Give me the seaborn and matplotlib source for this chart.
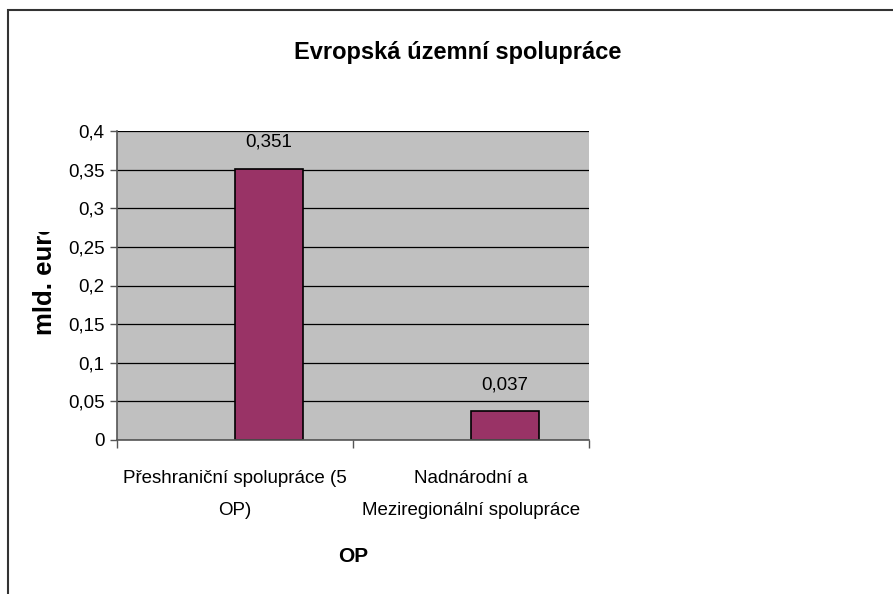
import matplotlib
matplotlib.use("Agg")
import matplotlib.pyplot as plt
import matplotlib.patches as mpatches
from matplotlib.ticker import FixedLocator, FuncFormatter
from matplotlib.transforms import Bbox
import pandas as pd
import seaborn as sns

# data
categories = ["Přeshraniční spolupráce (5\nOP)", "Nadnárodní a\nMeziregionální spolupráce"]
values = [0.351, 0.037]
series = ["", "EÚS"]  # first Excel series is empty, it only takes up space
y_ticks = [0, 0.05, 0.1, 0.15, 0.2, 0.25, 0.3, 0.35, 0.4]

df = pd.DataFrame({"kategorie": categories, "hodnota": values, "serie": series[1]})

sns.set_style("white")
plt.rcParams["font.family"] = ["Liberation Sans", "DejaVu Sans"]
plt.rcParams["text.color"] = "black"
plt.rcParams["xtick.labelcolor"] = "black"
plt.rcParams["ytick.labelcolor"] = "black"
plt.rcParams["axes.labelcolor"] = "black"

fig = plt.figure(figsize=(8.93, 5.94), dpi=100)
ax = fig.add_axes([117 / 893, 1 - 440 / 594, 472 / 893, 309 / 594])

sns.barplot(data=df, x="kategorie", y="hodnota", hue="serie", hue_order=series,
            order=categories, palette={"": "none", "EÚS": "#993366"}, saturation=1,
            dodge=True, width=0.576, edgecolor="black", linewidth=1.2, legend=False, ax=ax)

ax.set_facecolor("#c0c0c0")
ax.set_ylim(0, 0.4)
ax.set_xlim(-0.5, 1.5)
ax.yaxis.set_major_locator(FixedLocator(y_ticks))
ax.yaxis.set_major_formatter(FuncFormatter(lambda v, p: f"{v:g}".replace(".", ",")))
ax.grid(axis="y", color="black", linewidth=0.9)
ax.set_axisbelow(True)

for side in ["top", "right"]:
    ax.spines[side].set_visible(False)
for side in ["left", "bottom"]:
    ax.spines[side].set_color("#555555")
    ax.spines[side].set_linewidth(1.2)

ax.tick_params(axis="y", left=True, length=5, width=1, color="#555555", labelsize=13.5, pad=4)
ax.tick_params(axis="x", which="major", bottom=False, labelsize=13.5, pad=18)
ax.xaxis.set_minor_locator(FixedLocator([-0.5, 0.5, 1.5]))
ax.tick_params(axis="x", which="minor", bottom=True, length=6, width=1, color="#555555")
for lab in ax.get_xticklabels():
    lab.set_linespacing(2.2)

for cont in ax.containers:
    labs = [f"{b.get_height():g}".replace(".", ",") if b.get_height() == b.get_height() else ""
            for b in cont]
    ax.bar_label(cont, labels=labs, padding=13, fontsize=13.5, color="black")

ax.set_ylabel("")
ax.set_xlabel("OP", fontsize=15, fontweight="bold", labelpad=20)

# y axis title; in the reference it is cut off at the top (around y = 232 px)
ylab = fig.text(45 / 893, 1 - 335 / 594, "mld. euro", rotation=90, ha="center", va="bottom",
                fontsize=18.5, fontweight="bold")
ylab.set_clip_box(Bbox([[0, 0], [893, 594 - 232]]))
ylab.set_clip_on(True)

fig.text(458 / 893, 1 - 52 / 594, "Evropská územní spolupráce", ha="center", va="center",
         fontsize=17, fontweight="bold")

# chart area frame
fig.patches.append(mpatches.Rectangle((8 / 893, -0.1), 1.2, 1 - 10 / 594 + 0.1,
                                      transform=fig.transFigure, fill=False,
                                      edgecolor="#333333", linewidth=1.5))

fig.savefig("out.png", dpi=100)
